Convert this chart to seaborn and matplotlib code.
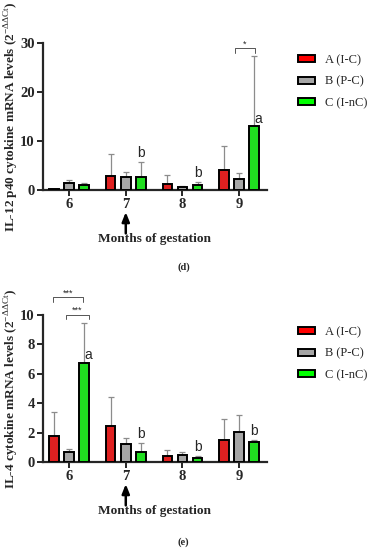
import pandas as pd
import matplotlib.pyplot as plt
import seaborn as sns
from matplotlib.patches import Patch

# Data
months = ['6', '7', '8', '9']
groups = ['A (I-C)', 'B (P-C)', 'C (I-nC)']
colors = ['#ff0000', '#a6a6a6', '#00ff00']

# IL-12 p40 (panel d): means and upper error bar ends
il12_a = [0.2, 2.8, 1.3, 4.0]
il12_b = [1.5, 2.7, 0.6, 2.3]
il12_c = [1.0, 2.7, 1.0, 13.0]
il12_a_top = [0.3, 7.4, 3.0, 8.9]
il12_b_top = [2.0, 3.6, 0.9, 3.4]
il12_c_top = [1.5, 5.8, 1.6, 27.4]
il12_letters_c = ['', 'b', 'b', 'a']

# IL-4 (panel e)
il4_a = [1.74, 2.47, 0.38, 1.52]
il4_b = [0.70, 1.22, 0.45, 2.01]
il4_c = [6.72, 0.68, 0.30, 1.33]
il4_a_top = [3.38, 4.39, 0.85, 2.90]
il4_b_top = [0.88, 1.63, 0.65, 3.20]
il4_c_top = [9.48, 1.29, 0.43, 1.50]
il4_letters_c = ['a', 'b', 'b', 'b']

sns.set_style('ticks')
plt.rcParams['font.family'] = ['Liberation Serif', 'DejaVu Serif']
plt.rcParams['mathtext.fontset'] = 'custom'
plt.rcParams['mathtext.rm'] = 'Liberation Serif'
plt.rcParams['mathtext.bf'] = 'Liberation Serif:bold'


def make_df(a, b, c):
    rows = []
    for g, vals in zip(groups, [a, b, c]):
        for m, v in zip(months, vals):
            rows.append({'month': m, 'group': g, 'value': v})
    return pd.DataFrame(rows)


def draw_panel(ax, a, b, c, tops, letters, ymax, yticks, ylabel):
    df = make_df(a, b, c)
    sns.barplot(data=df, x='month', y='value', hue='group', order=months,
                hue_order=groups, palette=colors, errorbar=None, width=0.8,
                gap=0.36, edgecolor='black', linewidth=1.4, legend=False,
                ax=ax, zorder=3)
    # upward error bars
    for cont, top in zip(ax.containers, tops):
        for bar, t in zip(cont, top):
            xc = bar.get_x() + bar.get_width() / 2
            h = bar.get_height()
            ax.errorbar(xc, h, yerr=[[0], [t - h]], fmt='none', ecolor='#8c8c8c',
                        elinewidth=0.9, capsize=2.2, capthick=0.9, zorder=2)
    # letters above group C
    for bar, t, lt in zip(ax.containers[2], tops[2], letters):
        xc = bar.get_x() + bar.get_width() / 2
        if lt == 'a':
            ax.text(xc + 0.01, bar.get_height() + ymax * 0.005, lt, ha='left', va='bottom',
                    fontsize=10, family='Liberation Sans')
        elif lt:
            ax.annotate(lt, (xc, t), xytext=(0, 1.5), textcoords='offset points',
                        ha='center', va='bottom', fontsize=10, family='Liberation Sans')
    ax.set_ylim(0, ymax)
    ax.set_xlim(-0.46, 3.49)
    ax.set_yticks(yticks)
    ax.set_yticklabels([str(t) for t in yticks], fontweight='bold', fontsize=10.5)
    ax.set_xticks(range(4))
    ax.set_xticklabels(months, fontweight='bold', fontsize=10.5)
    ax.tick_params(width=1.4, length=4, pad=2)
    for s in ['left', 'bottom']:
        ax.spines[s].set_linewidth(1.6)
    sns.despine(ax=ax)
    ax.set_xlabel('')
    ax.set_ylabel(ylabel, fontweight='bold', fontsize=9.5)
    ax.yaxis.set_label_coords(-0.10, 0.5)
    # arrow at month 7 and axis title
    ax.annotate('', xy=(1, -0.15), xytext=(1, -0.295),
                xycoords=('data', 'axes fraction'), textcoords=('data', 'axes fraction'),
                arrowprops=dict(arrowstyle='-|>,head_length=0.55,head_width=0.22',
                                color='black', lw=1.8, shrinkA=0, shrinkB=0),
                annotation_clip=False)
    ax.text(0.5, -0.33, 'Months of gestation', transform=ax.transAxes, ha='center',
            va='center', fontsize=9.6, fontweight='bold')
    handles = [Patch(facecolor=c, edgecolor='black', linewidth=1.4) for c in colors]
    ax.legend(handles, groups, loc='upper left', bbox_to_anchor=(1.09, 1.0),
              frameon=False, fontsize=9, handlelength=1.3, handleheight=0.5,
              labelspacing=0.75, handletextpad=0.8)


def bracket(ax, x0, x1, y, drop, label):
    ax.plot([x0, x0, x1, x1], [y - drop, y, y, y - drop], color='#555555', lw=0.7,
            clip_on=False, zorder=4)
    ax.text((x0 + x1) / 2, y, label, ha='center', va='bottom', fontsize=6.5,
            family='Liberation Sans', clip_on=False)


fig = plt.figure(figsize=(3.69, 5.5), dpi=100)
ax1 = fig.add_axes([0.1165, 0.6545, 0.607, 0.2673])
ax2 = fig.add_axes([0.1165, 0.16, 0.607, 0.2673])

draw_panel(ax1, il12_a, il12_b, il12_c, [il12_a_top, il12_b_top, il12_c_top],
           il12_letters_c, 30, [0, 10, 20, 30],
           r'IL-12 p40 cytokine mRNA levels (2$^{\mathrm{-\Delta\Delta Ct}}$)')
bracket(ax1, 2.92, 3.28, 28.9, 0.9, '*')

draw_panel(ax2, il4_a, il4_b, il4_c, [il4_a_top, il4_b_top, il4_c_top],
           il4_letters_c, 10, [0, 2, 4, 6, 8, 10],
           r'IL-4 cytokine mRNA levels (2$^{\mathrm{-\Delta\Delta Ct}}$)')
bracket(ax2, -0.28, 0.245, 11.2, 0.32, '***')
bracket(ax2, -0.05, 0.35, 10.0, 0.27, '***')

fig.text(0.497, 1 - 267 / 550, '(d)', ha='center', va='center', fontsize=7.5, fontweight='bold')
fig.text(0.497, 1 - 542 / 550, '(e)', ha='center', va='center', fontsize=7.5, fontweight='bold')

plt.savefig('out.png', dpi=100)
